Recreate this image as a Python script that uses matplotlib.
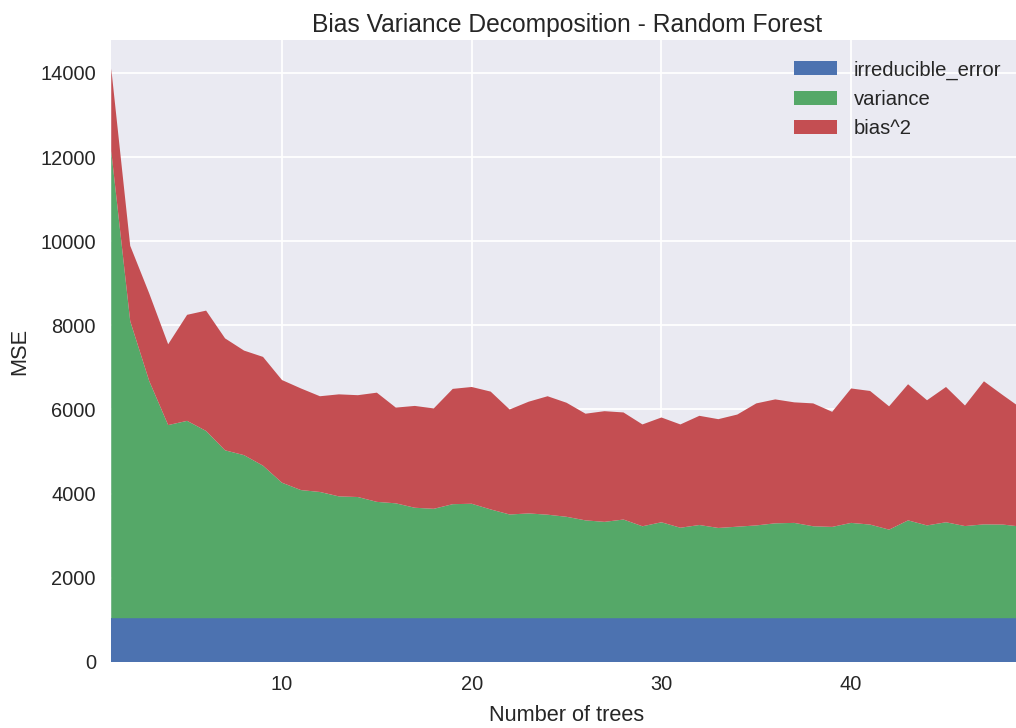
import matplotlib
matplotlib.use("Agg")
import matplotlib.pyplot as plt
import numpy as np

# ---- data ----
n_trees = list(range(1, 50))
irreducible_error = [1040] * 49
variance = [11100, 7060, 5640, 4590, 4690, 4450, 3990, 3875, 3625, 3220,
            3045, 3000, 2895, 2880, 2765, 2730, 2625, 2600, 2710, 2720,
            2585, 2465, 2490, 2460, 2410, 2325, 2290, 2345, 2185, 2280,
            2150, 2215, 2145, 2175, 2205, 2255, 2265, 2185, 2170, 2265,
            2225, 2105, 2325, 2205, 2280, 2190, 2230, 2225, 2175]
bias_sq = [1960, 1790, 2080, 1920, 2520, 2860, 2660, 2485, 2585, 2440,
           2415, 2275, 2425, 2420, 2595, 2275, 2420, 2385, 2740, 2775,
           2800, 2495, 2655, 2815, 2710, 2535, 2630, 2545, 2420, 2490,
           2455, 2595, 2585, 2665, 2900, 2945, 2865, 2920, 2735, 3195,
           3175, 2930, 3235, 2975, 3215, 2865, 3400, 3075, 2805]
series_labels = ["irreducible_error", "variance", "bias^2"]
colors = ["#4C72B0", "#55A868", "#C44E52"]

plt.style.use("seaborn-v0_8-darkgrid")
plt.rcParams["font.family"] = ["Liberation Sans", "DejaVu Sans"]
plt.rcParams["text.color"] = ".15"

fig = plt.figure(figsize=(10.16, 7.28), dpi=100)
ax = fig.add_axes([0.1095, 0.0907, 0.8963, 0.8543])
ax.stackplot(n_trees, irreducible_error, variance, bias_sq,
             labels=series_labels, colors=colors, linewidth=0)
ax.set_xlim(1, 49)
ax.set_ylim(0, 14780)
ax.set_xticks([10, 20, 30, 40])
ax.set_yticks(np.arange(0, 14001, 2000))
ax.tick_params(axis="both", labelsize=14.4, colors=".15", length=0)
ax.tick_params(axis="y", pad=11)
ax.tick_params(axis="x", pad=9.5)
ax.set_xlabel("Number of trees", fontsize=15.7, color=".15", labelpad=8)
ax.set_ylabel("MSE", fontsize=15.7, color=".15", labelpad=7)
ax.set_title("Bias Variance Decomposition - Random Forest", fontsize=17.7,
             color=".15", pad=6)
ax.legend(loc="upper right", fontsize=14.6, frameon=False,
          labelspacing=0.5, handlelength=2.1, handletextpad=0.85,
          borderaxespad=0.6)
ax.grid(True, color="white", linewidth=1.3)
ax.set_axisbelow(True)

fig.savefig("out.png", dpi=100)
